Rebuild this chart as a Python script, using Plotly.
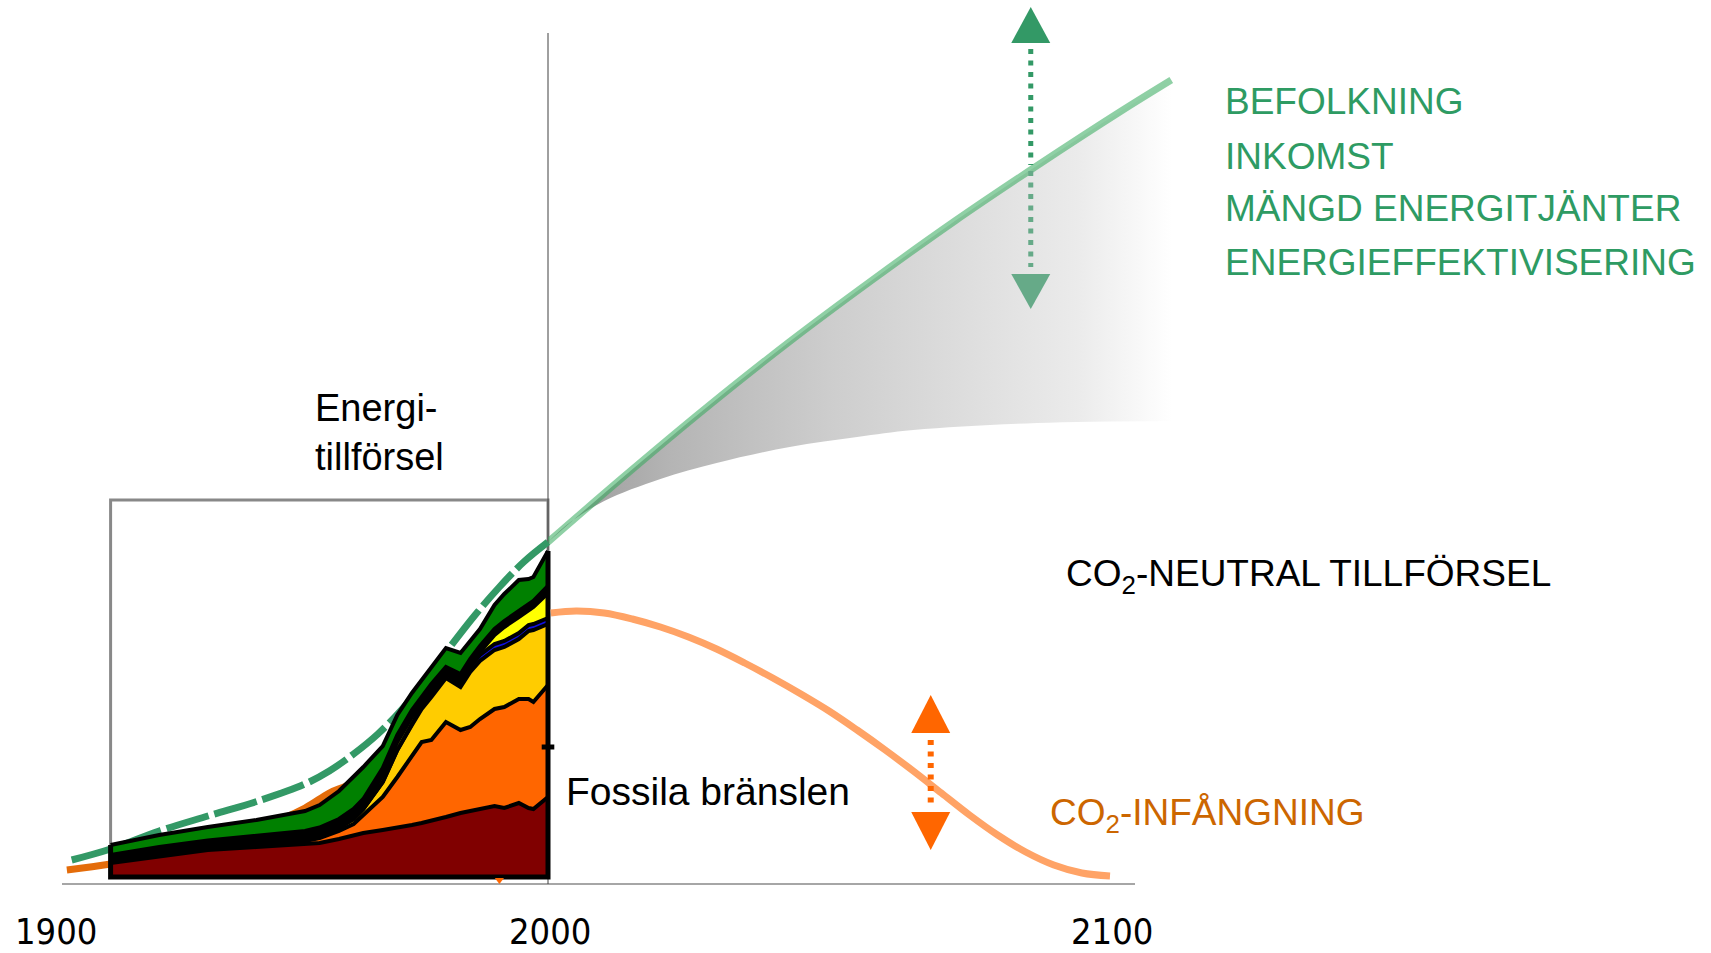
import plotly.graph_objects as go

W, H = 1711, 953

# ---------------- data (heights in chart units, 1 unit = 1 px) ----------------
years_hist = [1910, 1920, 1930, 1940, 1950, 1953, 1957, 1960, 1962, 1966, 1969, 1972,
              1974, 1976, 1979, 1982, 1984, 1986, 1989, 1991, 1994, 1996, 1997, 2000]
coal     = [14, 21, 27, 30, 33, 34, 38, 42, 44, 47, 49, 52, 54, 56, 60, 64, 66, 68, 71, 69, 74, 69, 68, 80]
oil      = [1, 1, 1, 3, 3, 5, 8, 11, 18, 33, 51, 70, 81, 81, 95, 83, 84, 90, 97, 101, 104, 109, 107, 112]
gas      = [0.5, 0.5, 1, 1, 1.5, 2, 3, 5, 6, 15, 27, 30, 33, 43, 44, 43, 55, 58, 59, 60, 60, 68, 72, 61]
nuclear  = [0, 0, 0, 0, 0, 0, 0, 0, 0, 0, 0, 1, 2, 3, 4, 4, 5, 6, 6, 6, 6, 6, 6, 6]
hydro    = [0.5, 0.5, 0.5, 0.5, 0.5, 0.5, 1, 2, 2, 7, 8, 7, 4, 4, 2, 3, 2, 3, 9, 14, 16, 15, 17, 25]
other    = [6, 7, 7, 7, 8, 8, 8, 8, 8, 7, 7, 7, 6, 6, 5, 6, 6, 6, 6, 6, 6, 5, 6, 7]
biomass  = [10, 12, 13.5, 15.5, 20, 22.5, 28, 32, 32, 22, 20, 17, 17, 17, 19, 21, 18, 17, 24, 27, 31, 26, 24, 35]

demand_hist_years = [1902, 1910, 1920, 1930, 1941, 1950, 1955, 1960, 1965, 1970, 1975, 1980, 1985, 1990, 1995, 2000]
demand_hist       = [17, 28, 46, 61, 77, 93, 106, 123, 143, 168, 198, 231, 262, 290, 315, 335]

co2_hist_years = [1901, 1910, 1920, 1930, 1940, 1950, 1955, 1960, 1970, 1980, 1990, 2000]
co2_hist       = [7, 13, 22, 33, 48, 69, 84, 95, 140, 195, 235, 264]

demand_future_years = [2000, 2013.4, 2028.1, 2042.9, 2057.7, 2072.4, 2087.2, 2102.0, 2110.9]
demand_future       = [335, 400, 469, 535, 597, 656, 712, 766, 797]

low_future_years = [2000, 2004, 2010, 2020, 2030, 2043, 2055, 2065, 2087, 2111]
low_future       = [335, 355, 376, 398, 414, 430, 440, 447, 454, 456]

fossil_future_years = [2000.5, 2005, 2010, 2015, 2020, 2025, 2030, 2035, 2040, 2045, 2050,
                       2055, 2060, 2065, 2070, 2075, 2080, 2085, 2090, 2095, 2100]
fossil_future       = [264, 266, 264, 258, 250, 240, 228, 214, 199, 183, 166,
                       147, 127, 106, 84, 62, 42, 25, 12, 4, 1]

tick_years = [1900, 2000, 2100]
tick_labels = ["1900", "2000", "2100"]

green_labels = ["BEFOLKNING", "INKOMST", "MÄNGD ENERGITJÄNTER", "ENERGIEFFEKTIVISERING"]

# ---------------- styles ----------------
FONT = "Liberation Sans, Arial, sans-serif"
NARROW = "Liberation Sans Narrow, Arial Narrow, DejaVu Sans Condensed, sans-serif"
GREEN = "#339966"
GREEN_TXT = "#2E9B63"
ORANGE = "#FF6600"

fig = go.Figure()

# historical lines (behind the stack)
fig.add_trace(go.Scatter(x=co2_hist_years, y=co2_hist, xaxis="x", yaxis="y", mode="lines",
                         line=dict(color="#E46C0A", width=7, shape="spline"), hoverinfo="skip"))
fig.add_trace(go.Scatter(x=demand_hist_years, y=demand_hist, xaxis="x", yaxis="y", mode="lines",
                         line=dict(color=GREEN, width=7, dash="44px,6px", shape="spline"),
                         hoverinfo="skip"))

layers = [
    ("Kol", coal, "#800000"),
    ("Olja", oil, "#FF6600"),
    ("Gas", gas, "#FFCC00"),
    ("Kärnkraft", nuclear, "#1010E0"),
    ("Vattenkraft", hydro, "#FFFF00"),
    ("Övrigt", other, "#000000"),
    ("Biomassa", biomass, "#008000"),
]
for name, vals, col in layers:
    fig.add_trace(go.Scatter(x=years_hist, y=vals, name=name, xaxis="x", yaxis="y",
                             stackgroup="hist", mode="lines",
                             line=dict(color="black", width=4), fillcolor=col,
                             hoverinfo="skip"))

total_first = sum(l[1][0] for l in layers)
total_last = sum(l[1][-1] for l in layers)
fig.add_trace(go.Scatter(x=[years_hist[0], years_hist[0], years_hist[-1], years_hist[-1]],
                         y=[total_first, 0, 0, total_last], xaxis="x", yaxis="y",
                         mode="lines", line=dict(color="black", width=5), hoverinfo="skip"))
fig.add_trace(go.Scatter(x=[years_hist[-1]], y=[130], xaxis="x", yaxis="y", mode="markers",
                         marker=dict(symbol="line-ew", size=9, line=dict(color="black", width=5)),
                         hoverinfo="skip"))
fig.add_trace(go.Scatter(x=[1990], y=[-3], xaxis="x", yaxis="y", mode="markers",
                         marker=dict(symbol="triangle-down", size=8, color=ORANGE), hoverinfo="skip"))

# future: gradient band
fig.add_trace(go.Scatter(x=low_future_years, y=low_future, xaxis="x2", yaxis="y", mode="lines",
                         line=dict(width=0, shape="spline"), hoverinfo="skip"))
fig.add_trace(go.Scatter(x=demand_future_years, y=demand_future, xaxis="x2", yaxis="y", mode="lines",
                         line=dict(width=0, shape="spline"), fill="tonexty",
                         fillgradient=dict(type="horizontal",
                                           colorscale=[[0, "#979797"], [0.2, "#b5b5b5"], [0.45, "#cdcdcd"],
                                                       [0.65, "#dcdcdc"], [0.85, "#ebebeb"], [1, "#ffffff"]]),
                         hoverinfo="skip"))
fig.add_trace(go.Scatter(x=demand_future_years, y=demand_future, xaxis="x2", yaxis="y", mode="lines",
                         line=dict(color="rgba(51,170,91,0.55)", width=7, shape="spline"), hoverinfo="skip"))
fig.add_trace(go.Scatter(x=fossil_future_years, y=fossil_future, xaxis="x2", yaxis="y", mode="lines",
                         line=dict(color="#FFA366", width=7, shape="spline"), hoverinfo="skip"))

# ---------------- axes ----------------
HIST_PX0, HIST_PPY = 62, 4.86      # 1900 at px 62
FUT_PX0, FUT_PPY = 548, 5.62       # 2000 at px 548
hist_range = [1899, 2002]
fut_end_px = 1250
fut_range = [2000, 2000 + (fut_end_px - FUT_PX0) / FUT_PPY]

fig.update_layout(
    width=W, height=H, margin=dict(l=0, r=0, t=0, b=0, pad=0),
    paper_bgcolor="white", plot_bgcolor="rgba(0,0,0,0)", showlegend=False,
    xaxis=dict(domain=[(HIST_PX0 + (hist_range[0] - 1900) * HIST_PPY) / W,
                       (HIST_PX0 + (hist_range[1] - 1900) * HIST_PPY) / W],
               range=hist_range, visible=False, fixedrange=True),
    xaxis2=dict(domain=[FUT_PX0 / W, fut_end_px / W], range=fut_range, anchor="y",
                visible=False, fixedrange=True),
    yaxis=dict(domain=[0, 1], range=[-76, 877], visible=False, fixedrange=True),
)

# ---------------- shapes ----------------
shapes = []
shapes.append(dict(type="rect", xref="x", yref="y", x0=1910, x1=2000, y0=0, y1=377,
                   line=dict(color="#888888", width=3), layer="below"))
shapes.append(dict(type="line", xref="x", yref="y", x0=2000, x1=2000, y0=-7, y1=844,
                   line=dict(color="#404040", width=1), layer="below"))
shapes.append(dict(type="line", xref="paper", yref="y", x0=62 / W, x1=1135 / W, y0=-7, y1=-7,
                   line=dict(color="#A6A6A6", width=2), layer="below"))


def tri(xc, base, apex, hw, color):
    return dict(type="path", xref="x2", yref="y",
                path=f"M {xc - hw},{base} L {xc + hw},{base} L {xc},{apex} Z",
                fillcolor=color, line=dict(width=0))


HW = 19.5 / FUT_PPY
GA_X = 2085.9
shapes.append(tri(GA_X, 834, 870, HW, GREEN))
shapes.append(dict(type="line", xref="x2", yref="y", x0=GA_X, x1=GA_X, y0=828, y1=712,
                   line=dict(color=GREEN, width=5, dash="5px,6.5px")))
shapes.append(dict(type="line", xref="x2", yref="y", x0=GA_X, x1=GA_X, y0=706, y1=610,
                   line=dict(color="#66AA88", width=5, dash="5px,6.5px")))
shapes.append(tri(GA_X, 603, 568, HW, "#66AA88"))

OA_X = 2068.1
shapes.append(tri(OA_X, 144, 182, HW, ORANGE))
shapes.append(dict(type="line", xref="x2", yref="y", x0=OA_X, x1=OA_X, y0=137, y1=72,
                   line=dict(color=ORANGE, width=6, dash="5px,6.5px")))
shapes.append(tri(OA_X, 65, 27, HW, ORANGE))
fig.update_layout(shapes=shapes)

# ---------------- annotations ----------------
ann = []


def txt(text, px, py, size, color="black", xanchor="left", align="left", family=FONT):
    return dict(text=text, x=px / W, y=1 - py / H, xref="paper", yref="paper",
                xanchor=xanchor, yanchor="middle", align=align, showarrow=False,
                font=dict(family=family, size=size, color=color))


ann.append(txt("Energi-<br>tillförsel", 313, 432, 38))
ann.append(txt("Fossila bränslen", 564, 791, 39))
ann.append(txt("CO<sub>2</sub>-NEUTRAL TILLFÖRSEL", 1064, 576, 37))
ann.append(txt("CO<sub>2</sub>-INFÅNGNING", 1048, 815, 37, color="#CC6600"))
for lab, py in zip(green_labels, [101.7, 156, 208.8, 262.3]):
    ann.append(txt(lab, 1223, py, 37, color=GREEN_TXT))

for yv, lab in zip(tick_years, tick_labels):
    axref = "x" if yv <= 2000 else "x2"
    ann.append(dict(text=lab, x=yv, y=-54, xref=axref, yref="y", xanchor="center",
                    yanchor="middle", showarrow=False, xshift=-6 if yv == 1900 else 2,
                    font=dict(family=NARROW, size=36, color="black")))
fig.update_layout(annotations=ann)

fig.write_html("out.html", config={"displayModeBar": False},
               post_script="document.body.style.margin='0';document.body.style.overflow='hidden';")
